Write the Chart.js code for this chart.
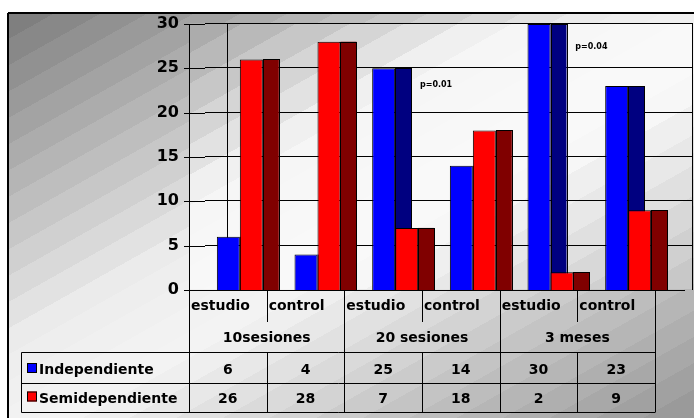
<!DOCTYPE html>
<html>
<head>
<meta charset="utf-8">
<script src="https://cdn.jsdelivr.net/npm/chart.js@4"></script>
<style>
  html, body { margin: 0; padding: 0; background: #fff; }
  canvas { display: block; }
</style>
</head>
<body>
<canvas id="c" width="694" height="418"></canvas>
<script>
// ---- data ----
const categories = ['estudio', 'control', 'estudio', 'control', 'estudio', 'control'];
const groups = ['10sesiones', '20 sesiones', '3 meses'];
const seriesNames = ['Independiente', 'Semidependiente'];
const independiente = [6, 4, 25, 14, 30, 23];
const semidependiente = [26, 28, 7, 18, 2, 9];
const yTicks = [0, 5, 10, 15, 20, 25, 30];
// significance notes: text, category boundary index it starts at, value height
const noteTexts = ['p=0.01', 'p=0.04'];
const noteCategory = [3, 5];
const noteValue = [23.1, 27.4];

// ---- styling ----
const FONT = '"DejaVu Sans", "Liberation Sans", sans-serif';
const FRONT = ['#0000ff', '#ff0000'];
const SIDE = ['#000080', '#800000'];
const DEPTH = 16;      // width of the shaded side face of each column
const SHIFT = 12;      // columns sit a little back/right in the 3-D box
const WALL_DX = 38;    // horizontal offset of the back wall
const WALL_DY = 1;     // vertical offset of the back wall

function grayAt(stops, t) {
  for (let i = 1; i < stops.length; i++) {
    if (t <= stops[i][0]) {
      const [t0, v0] = stops[i - 1], [t1, v1] = stops[i];
      return v0 + (v1 - v0) * (t - t0) / (t1 - t0);
    }
  }
  return stops[stops.length - 1][1];
}

// diagonal, posterised gray gradient
function fillBanded(ctx, x, y, w, h, stops, bands) {
  const dx = 0.49, dy = 0.87;
  const len = w * dx + h * dy;
  const g = ctx.createLinearGradient(x, y, x + dx * len, y + dy * len);
  for (let i = 0; i < bands; i++) {
    const a = i / bands, b = (i + 1) / bands;
    const v = Math.round(grayAt(stops, (a + b) / 2));
    const c = `rgb(${v},${v},${v})`;
    g.addColorStop(a, c);
    g.addColorStop(b, c);
  }
  ctx.fillStyle = g;
  ctx.fillRect(x, y, w, h);
}

function line(ctx, x0, y0, x1, y1) {
  ctx.beginPath();
  ctx.moveTo(x0, y0);
  ctx.lineTo(x1, y1);
  ctx.stroke();
}

const boxPlugin = {
  id: 'box',
  beforeDraw(chart) {
    const ctx = chart.ctx;
    const { left, top, bottom } = chart.chartArea;
    const xs = chart.scales.x, ys = chart.scales.y;
    const step = xs.getPixelForValue(1) - xs.getPixelForValue(0);
    const frontRight = left + step * categories.length;
    const backLeft = left + WALL_DX;
    const backRight = frontRight + WALL_DX;
    ctx.save();
    ctx.fillStyle = '#fff';
    ctx.fillRect(0, 0, chart.width, chart.height);
    fillBanded(ctx, 8, 13, chart.width - 8, chart.height - 13,
      [[0, 122], [0.42, 236], [0.56, 244], [1, 150]], 30);
    fillBanded(ctx, left, top - WALL_DY, backRight - left, bottom - top,
      [[0, 165], [0.33, 246], [0.62, 250], [1, 196]], 18);

    ctx.strokeStyle = '#000';
    ctx.lineWidth = 1;
    // tick marks, side-wall and back-wall grid lines
    yTicks.forEach(v => {
      const y = Math.round(ys.getPixelForValue(v)) + 0.5;
      if (v === 0) {
        line(ctx, left - 5, y, backRight - 8, y);
        return;
      }
      ctx.beginPath();
      ctx.moveTo(left - 5, y);
      ctx.lineTo(left + WALL_DX / 2 - 3, y);
      ctx.moveTo(left + WALL_DX / 2 - 3, y - WALL_DY);
      ctx.lineTo(backRight, y - WALL_DY);
      ctx.stroke();
    });
    // back wall edges
    const yTop = Math.round(top) + 0.5 - WALL_DY;
    line(ctx, Math.round(backLeft) + 0.5, yTop, Math.round(backLeft) + 0.5, bottom);
    line(ctx, Math.round(backRight) - 0.5, yTop, Math.round(backRight) - 0.5, bottom);
    // value axis
    line(ctx, left + 0.5, top, left + 0.5, chart.height - 6);
    // outer frame
    ctx.lineWidth = 2;
    line(ctx, 8, 13, chart.width, 13);
    line(ctx, 8, 13, 8, chart.height);
    ctx.restore();
  },
  beforeDatasetsDraw(chart) {
    const ctx = chart.ctx;
    ctx.save();
    ctx.translate(SHIFT, 0);
    // shaded side faces, drawn first so neighbouring fronts overlap them
    chart.data.datasets.forEach((ds, di) => {
      chart.getDatasetMeta(di).data.forEach(bar => {
        const { x, y, base, width } = bar.getProps(['x', 'y', 'base', 'width'], true);
        const x0 = x + width / 2;
        ctx.fillStyle = SIDE[di];
        ctx.fillRect(x0, y, DEPTH, base - y);
        ctx.strokeStyle = '#000';
        ctx.lineWidth = 1;
        ctx.strokeRect(Math.round(x0) + 0.5, Math.round(y) + 0.5, DEPTH, Math.round(base - y));
      });
    });
  },
  afterDatasetsDraw(chart) {
    chart.ctx.restore();
  },
  afterDraw(chart) {
    const ctx = chart.ctx;
    const { left, bottom } = chart.chartArea;
    const xs = chart.scales.x, ys = chart.scales.y;
    const step = xs.getPixelForValue(1) - xs.getPixelForValue(0);
    const right = left + step * categories.length;
    const r1 = 322, r2 = 352.5, r3 = 383.5, r4 = 412.5, keyLeft = 21.5;
    ctx.save();
    ctx.strokeStyle = '#000';
    ctx.lineWidth = 1;
    // data table grid
    [r2, r3, r4].forEach(y => line(ctx, keyLeft, y, right, y));
    line(ctx, keyLeft, r2, keyLeft, r4);
    line(ctx, right + 0.5, bottom, right + 0.5, r4);
    for (let i = 1; i < categories.length; i++) {
      const x = Math.round(left + i * step) + 0.5;
      if (i % 2 === 0) {
        line(ctx, x, bottom, x, r4);
      } else {
        line(ctx, x, bottom, x, r1);
        line(ctx, x, r2, x, r4);
      }
    }
    // table text
    ctx.fillStyle = '#000';
    ctx.font = `bold 14px ${FONT}`;
    ctx.textBaseline = 'alphabetic';
    ctx.textAlign = 'left';
    categories.forEach((c, i) => ctx.fillText(c, left + i * step + 2, 310));
    ctx.textAlign = 'center';
    groups.forEach((g, i) => ctx.fillText(g, left + (2 * i + 1) * step, 341.5));
    const rows = [independiente, semidependiente];
    const baselines = [374, 402.5];
    rows.forEach((vals, r) => {
      vals.forEach((v, i) => ctx.fillText(String(v), left + (i + 0.5) * step, baselines[r]));
    });
    ctx.textAlign = 'left';
    seriesNames.forEach((n, r) => {
      const ky = baselines[r] - 11;
      ctx.fillStyle = FRONT[r];
      ctx.fillRect(27, ky, 10, 10);
      ctx.strokeRect(27.5, ky + 0.5, 9, 9);
      ctx.fillStyle = '#000';
      ctx.fillText(n, 39, baselines[r]);
    });
    // significance notes
    ctx.font = `bold 8px ${FONT}`;
    ctx.textBaseline = 'middle';
    noteTexts.forEach((t, i) => {
      ctx.fillText(t, left + noteCategory[i] * step - 2, ys.getPixelForValue(noteValue[i]));
    });
    ctx.restore();
  }
};

new Chart(document.getElementById('c'), {
  type: 'bar',
  data: {
    labels: categories,
    datasets: [
      { label: seriesNames[0], data: independiente, backgroundColor: FRONT[0] },
      { label: seriesNames[1], data: semidependiente, backgroundColor: FRONT[1] }
    ]
  },
  options: {
    responsive: false,
    animation: false,
    devicePixelRatio: 1,
    layout: { padding: { top: 24, right: 39, bottom: 128, left: 0 } },
    datasets: {
      bar: {
        categoryPercentage: 0.592,
        barPercentage: 1,
        borderColor: '#000',
        borderWidth: 1,
        clip: false
      }
    },
    plugins: { legend: { display: false }, tooltip: { enabled: false } },
    scales: {
      x: { display: false },
      y: {
        min: 0,
        max: 30,
        afterFit(scale) { scale.width = 189; },
        afterBuildTicks(scale) { scale.ticks = yTicks.map(v => ({ value: v })); },
        grid: { display: false, drawTicks: false, tickLength: 0 },
        border: { display: false },
        ticks: {
          padding: 10,
          color: '#000',
          font: { family: FONT, size: 16, weight: 'bold' }
        }
      }
    }
  },
  plugins: [boxPlugin]
});
</script>
</body>
</html>
